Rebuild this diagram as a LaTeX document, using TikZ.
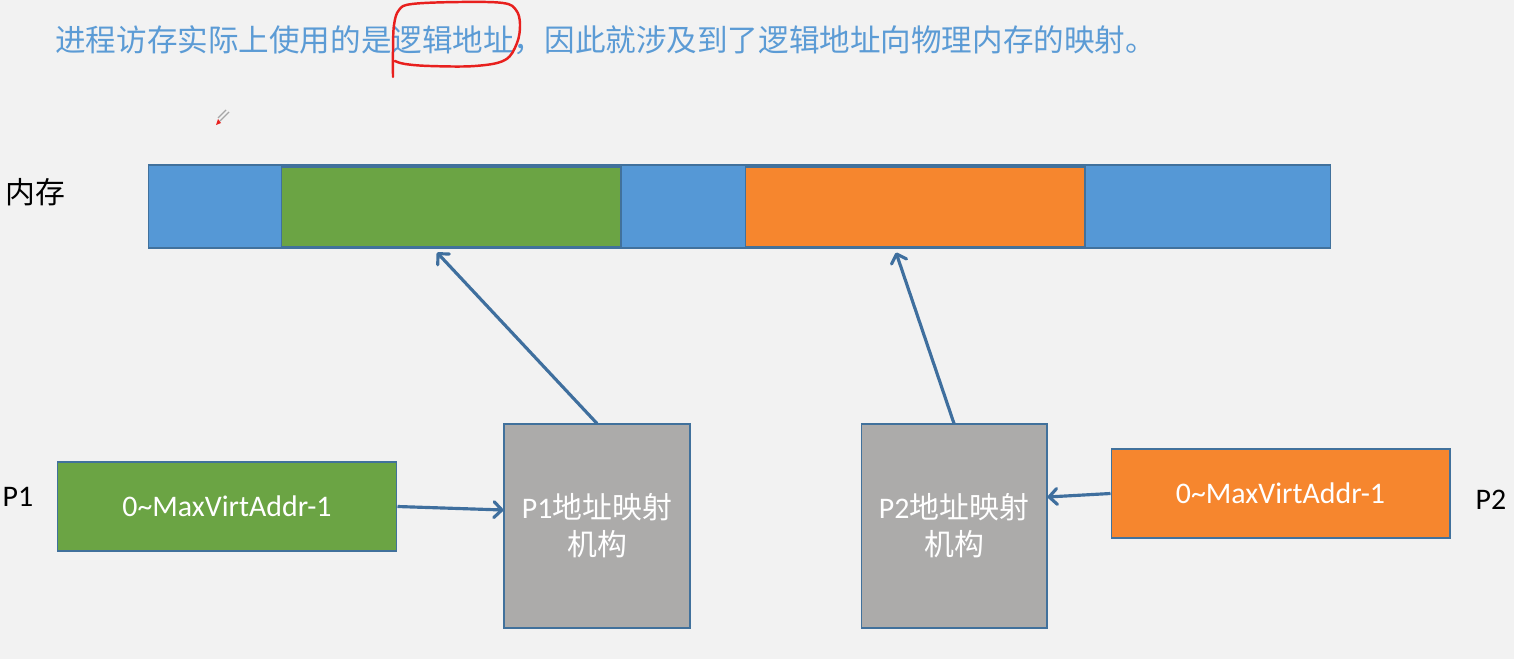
\documentclass[tikz,border=0pt]{standalone}
\usepackage{fontspec}
\setmainfont{Carlito}
\newfontfamily\cjk{Noto Sans CJK SC}
\usetikzlibrary{arrows.meta,positioning}
\definecolor{slidebg}{HTML}{F2F2F2}
\definecolor{titleblue}{HTML}{5B9BD5}
\definecolor{memblue}{HTML}{5598D6}
\definecolor{edgeblue}{HTML}{41719C}
\definecolor{procgreen}{HTML}{6BA444}
\definecolor{procorange}{HTML}{F6862E}
\definecolor{mapgray}{HTML}{ACABAA}
\definecolor{arrowblue}{HTML}{3F6F9E}
\definecolor{penred}{HTML}{E8201E}

\begin{document}
\begin{tikzpicture}[
  x=0.02cm, y=-0.02cm,
  >={Straight Barb[length=4.5pt,width=9pt,round]},
  seg/.style={draw=edgeblue, line width=0.6pt, inner sep=0pt,
              minimum width=6.8cm, minimum height=1.6cm},
  proc/.style={draw=edgeblue, line width=0.6pt, text=white, inner sep=0pt,
               minimum width=6.8cm, minimum height=1.78cm,
               font=\fontsize{17}{20}\selectfont},
  mapbox/.style={draw=edgeblue, line width=0.6pt, fill=mapgray, text=white,
                 minimum width=3.72cm, minimum height=4.08cm, align=center,
                 font=\fontsize{17}{21}\selectfont},
  lbl/.style={inner sep=0pt, font=\fontsize{17}{20}\selectfont},
  arr/.style={->, draw=arrowblue, line width=1.8pt},
  redmark/.style={draw=penred, line width=1.4pt, line cap=round, line join=round},
]

% Slide background
\fill[slidebg] (0,0) rectangle (1514,659);
\useasboundingbox (0,0) rectangle (1514,659);

% Title
\node[anchor=west, inner sep=0pt, text=titleblue,
      font=\cjk\fontsize{17.4}{20}\selectfont] (title) at (55,40)
  {进程访存实际上使用的是逻辑地址，因此就涉及到了逻辑地址向物理内存的映射。};

% Hand-drawn mark round the key words
\draw[redmark] plot[smooth, tension=0.6] coordinates {
  (393,77) (393,50) (394,25) (399,10) (412,4) (460,2) (503,3)
  (516,10) (520,24) (517,43) (505,60) (475,66) (430,66) (405,64) (395,61)};

% Pen cursor
\draw[gray!70, line width=0.8pt] (229,112) -- (220,121);
\draw[gray!70, line width=0.8pt] (226,110) -- (218,118);
\fill[penred] (216,125) -- (221,123) -- (218,119) -- cycle;

% Memory bar
\node[lbl] (memlbl) at (35,192) {\cjk 内存};
\node[seg, fill=memblue, minimum width=23.66cm, minimum height=1.66cm] (mem) at (739.5,206.5) {};
\node[seg, fill=procgreen] (seg1) at (451,207) {};
\node[seg, fill=procorange] (seg2) at (915,207) {};

% Processes
\node[lbl] (p1lbl) at (18,497) {P1};
\node[proc, fill=procgreen] (p1) at (227,506.5) {0\textasciitilde MaxVirtAddr-1};
\node[lbl] (p2lbl) at (1491,500) {P2};
\node[proc, fill=procorange, minimum width=6.78cm] (p2) at (1280.5,493.5) {0\textasciitilde MaxVirtAddr-1};

% Address mapping units
\node[mapbox] (map1) at (597,526) {P1{\cjk 地址映射}\\{\cjk 机构}};
\node[mapbox] (map2) at (954,526) {P2{\cjk 地址映射}\\{\cjk 机构}};

% Connectors
\draw[arr] (p1.east) -- ([yshift=0.32cm]map1.west);
\draw[arr] (map1.north) -- ([xshift=-0.28cm,yshift=-0.1cm]seg1.south);
\draw[arr] (map2.north) -- ([xshift=-0.38cm,yshift=-0.1cm]seg2.south);
\draw[arr] (p2.west) -- ([yshift=0.58cm]map2.east);

\end{tikzpicture}
\end{document}
